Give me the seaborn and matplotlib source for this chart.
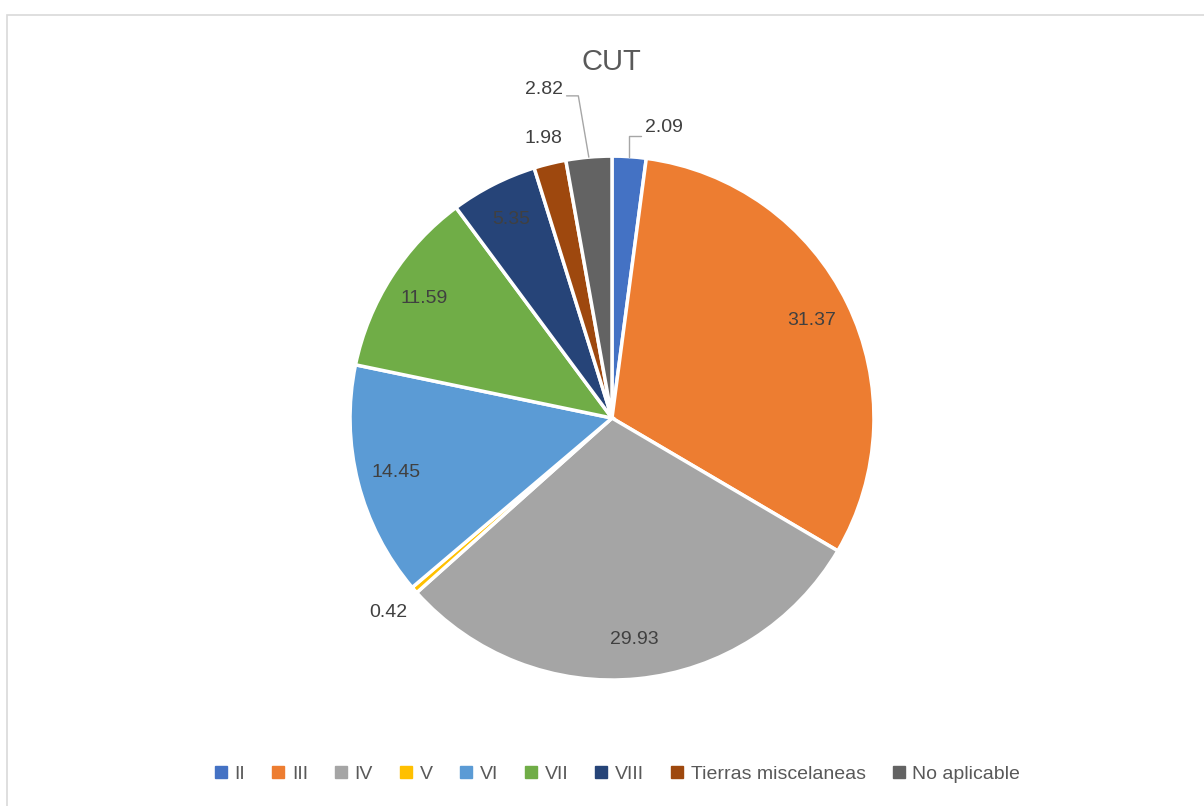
import numpy as np
import matplotlib
matplotlib.use('Agg')
import matplotlib.pyplot as plt
import seaborn as sns
from matplotlib.patches import Rectangle

# data
categories = ['II', 'III', 'IV', 'V', 'VI', 'VII', 'VIII', 'Tierras miscelaneas', 'No aplicable']
values = [2.09, 31.37, 29.93, 0.42, 14.45, 11.59, 5.35, 1.98, 2.82]
colors = ['#4472C4', '#ED7D31', '#A5A5A5', '#FFC000', '#5B9BD5',
          '#70AD47', '#264478', '#9E480E', '#636363']

sns.set_theme(style='white')
plt.rcParams['font.family'] = ['Liberation Sans', 'DejaVu Sans']
text_col = '#595959'
lab_col = '#404040'

fig = plt.figure(figsize=(12.04, 8.06), dpi=100)
fig.patch.set_facecolor('white')

# outer chart frame
fig.add_artist(Rectangle((0.0058, -0.02), 1.1, 1.0014, transform=fig.transFigure,
                         fill=False, edgecolor='#D9D9D9', linewidth=1.2))

ax = fig.add_axes([0.2907, 0.1563, 0.4352, 0.650])
wedges, _ = ax.pie(values, colors=colors, startangle=90, counterclock=False,
                   wedgeprops=dict(edgecolor='white', linewidth=2.5))
ax.set_xlim(-1, 1)
ax.set_ylim(-1, 1)
ax.set_aspect('equal')

# labels: inside for big wedges, outside for small ones
outside = {0: 1.0, 3: 1.13, 7: 1.10, 8: 1.0}
for i, (w, v) in enumerate(zip(wedges, values)):
    ang = np.deg2rad((w.theta1 + w.theta2) / 2)
    label = f'{v:.2f}'
    if i not in outside:
        r = 0.85
        ax.text(r * np.cos(ang), r * np.sin(ang), label, ha='center', va='center',
                fontsize=14, color=lab_col)
    elif i in (3, 7):
        r = outside[i]
        ax.text(r * np.cos(ang), r * np.sin(ang), label, ha='center', va='center',
                fontsize=14, color=lab_col)

# leader-line labels
ang0 = np.deg2rad((wedges[0].theta1 + wedges[0].theta2) / 2)
x0, y0 = np.cos(ang0), np.sin(ang0)
ax.plot([x0, x0, x0 + 0.045], [y0, 1.075, 1.075], color='#A6A6A6', lw=1, clip_on=False)
ax.text(x0 + 0.06, 1.11, f'{values[0]:.2f}', ha='left', va='center', fontsize=14, color=lab_col)

ang8 = np.deg2rad((wedges[8].theta1 + wedges[8].theta2) / 2)
x8, y8 = np.cos(ang8), np.sin(ang8)
ax.plot([x8, x8 - 0.04, x8 - 0.085], [y8, 1.23, 1.23], color='#A6A6A6', lw=1, clip_on=False)
ax.text(x8 - 0.1, 1.255, f'{values[8]:.2f}', ha='right', va='center', fontsize=14, color=lab_col)

fig.text(0.508, 0.923, 'CUT', ha='center', va='center', fontsize=21, color=text_col)

handles = [plt.Rectangle((0, 0), 1, 1, color=c) for c in colors]
fig.legend(handles, categories, loc='center', bbox_to_anchor=(0.513, 0.039), ncol=9,
           frameon=False, fontsize=14, handlelength=0.6, handleheight=0.6,
           handletextpad=0.4, columnspacing=1.4, labelcolor=text_col)

fig.savefig('out.png', dpi=100)
